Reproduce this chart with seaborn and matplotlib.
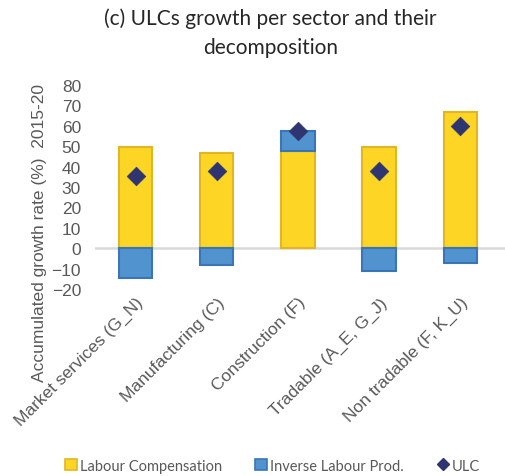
import numpy as np
import pandas as pd
import matplotlib
matplotlib.use("Agg")
import matplotlib.pyplot as plt
import seaborn as sns
from matplotlib.patches import Patch
from matplotlib.lines import Line2D

sectors = ["Market services (G_N)", "Manufacturing (C)", "Construction (F)",
           "Tradable (A_E, G_J)", "Non tradable (F, K_U)"]
labour_comp = [49.5, 46.5, 47.5, 49.5, 66.5]
inv_labour_prod = [-14.5, -8.3, 10.0, -11.3, -7.3]
ulc = [35.3, 37.9, 57.5, 37.9, 59.8]

YELLOW = "#FDD525"
YELLOW_EDGE = "#E2B623"
BLUE = "#5193CF"
BLUE_EDGE = "#3A76B6"
NAVY = "#2E3570"
GREY = "#595959"

df = pd.DataFrame({"sector": sectors, "lc": labour_comp,
                   "ilp": inv_labour_prod, "ulc": ulc})
# positive productivity contribution sits on top of compensation
df["ilp_base"] = np.where(df["ilp"] > 0, df["lc"], 0.0)

sns.set_style("white")
plt.rcParams["font.family"] = ["Liberation Sans", "DejaVu Sans"]

fig = plt.figure(figsize=(5.05, 4.77), dpi=100)
ax = fig.add_axes([0.188, 0.392, 0.812, 0.428])

sns.barplot(data=df, x="sector", y="lc", color=YELLOW, edgecolor=YELLOW_EDGE,
            linewidth=1.5, width=0.41, saturation=1, ax=ax, errorbar=None)
sns.barplot(data=df, x="sector", y="ilp", color=BLUE, edgecolor=BLUE_EDGE,
            linewidth=1.5, width=0.41, saturation=1, ax=ax, errorbar=None,
            bottom=df["ilp_base"].to_numpy())
sns.scatterplot(data=df, x="sector", y="ulc", marker="D", color=NAVY, s=90,
                edgecolor=NAVY, linewidth=0.5, ax=ax, zorder=5)

ax.axhline(0, color="#D9D9D9", linewidth=1.8, zorder=0.5)
ax.set_ylim(-20, 80)
ax.set_xlim(-0.5, 4.55)
ax.set_yticks(range(-20, 81, 10))
ax.tick_params(axis="y", labelsize=12.5, colors=GREY, length=0, pad=10)
ax.tick_params(axis="x", labelsize=12.5, colors=GREY, length=0, pad=4)
plt.setp(ax.get_xticklabels(), rotation=45, ha="right", rotation_mode="anchor")
for sp in ax.spines.values():
    sp.set_visible(False)
ax.set_xlabel("")
ax.set_ylabel("Accumulated growth rate (%)  2015-20", fontsize=12.5, color=GREY)
ax.yaxis.set_label_coords(-0.118, 0.28)

fig.text(0.535, 0.93, "(c) ULCs growth per sector and their\ndecomposition",
         ha="center", va="center", fontsize=15, color="#262626",
         family=["Lato", "DejaVu Sans"], linespacing=1.55)

handles = [Patch(facecolor=YELLOW, edgecolor=YELLOW_EDGE, linewidth=1.2),
           Patch(facecolor=BLUE, edgecolor=BLUE_EDGE, linewidth=1.2),
           Line2D([], [], marker="D", color=NAVY, linestyle="none", markersize=6)]
fig.legend(handles, ["Labour Compensation", "Inverse Labour Prod.", "ULC"],
           loc="center", bbox_to_anchor=(0.54, 0.022), ncol=3, frameon=False,
           handlelength=0.8, handleheight=0.8, handletextpad=0.2,
           columnspacing=2.3, prop={"family": ["Lato", "DejaVu Sans"], "size": 10.5},
           labelcolor=GREY)

fig.savefig("out.png", dpi=100)
